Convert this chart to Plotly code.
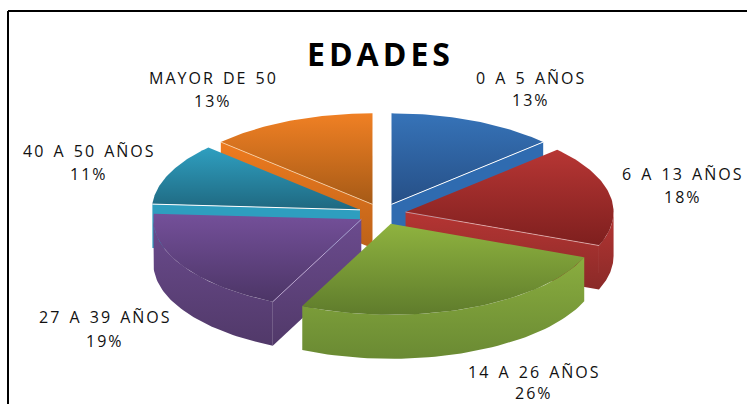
import math
import plotly.graph_objects as go

# Data
categories = ["0 A 5 AÑOS", "6 A 13 AÑOS", "14 A 26 AÑOS", "27 A 39 AÑOS", "40 A 50 AÑOS", "MAYOR DE 50"]
values = [13, 18, 26, 19, 11, 13]

# Styles
top_colors = [("#3673B8", "#264F86"), ("#B73634", "#7E1F1E"), ("#8FB33F", "#5F7C2C"),
              ("#74509A", "#4C3566"), ("#2F9FC0", "#1F6880"), ("#F08024", "#A65A16")]
side_colors = [("#2F6BB0", "#2F6BB0"), ("#B53533", "#8A2A28"), ("#8AAD3F", "#6A8A33"),
               ("#6B4B8E", "#513969"), ("#2E9EBF", "#2E9EBF"), ("#EE7B1F", "#BC6219")]
edge_colors = ["#FFFFFF", "rgba(255,220,220,0.55)", "rgba(220,240,180,0.4)",
               "rgba(220,200,240,0.6)", "#FFFFFF", "rgba(255,225,190,0.7)"]
label_pos = [(531, 78, 100), (683, 174, 197), (534, 372, 393), (105, 317, 341), (89, 151, 174), (213, 78, 101)]
draw_order = [0, 5, 4, 1, 3, 2]

CX, CY, RX, RY, DEPTH, EXPLODE = 382, 214, 208, 91, 44, 24
FONT = "Open Sans"


def pt(c, deg):
    r = math.radians(deg)
    return c[0] + RX * math.sin(r), c[1] - RY * math.cos(r)


def arc(c, a, b, n=50):
    return [pt(c, a + (b - a) * i / n) for i in range(n + 1)]


fig = go.Figure()


def poly(points, colors, name, edge=None):
    ys = [p[1] for p in points]
    fig.add_trace(go.Scatter(
        x=[p[0] for p in points] + [points[0][0]],
        y=[p[1] for p in points] + [points[0][1]],
        mode="lines", fill="toself", name=name, showlegend=False,
        line=dict(width=0.6 if edge else 0, color=edge or "rgba(0,0,0,0)"),
        fillgradient=dict(type="vertical", start=min(ys), stop=max(ys),
                          colorscale=[[0, colors[0]], [1, colors[1]]]),
        hoverinfo="name",
    ))


total = sum(values)
angles = []
acc = 0
for v in values:
    a = acc / total * 360
    acc += v
    angles.append((a, acc / total * 360))

for i in draw_order:
    a, b = angles[i]
    mid = math.radians((a + b) / 2)
    c = (CX + EXPLODE * math.sin(mid), CY - EXPLODE * (RY / RX) * math.cos(mid))
    name = categories[i]
    down = lambda pts: [(x, y + DEPTH) for x, y in pts]
    # cut faces that turn towards the viewer
    for ang, normal in ((a, a - 90), (b, b + 90)):
        if math.cos(math.radians(normal)) < 0.0:
            face = [c, pt(c, ang)]
            poly(face + down(face)[::-1], side_colors[i], name)
    # outer rim (front half only)
    lo, hi = max(a, 90), min(b, 270)
    if lo < hi:
        top = arc(c, lo, hi)
        poly(top + down(top)[::-1], side_colors[i], name)
    # top face
    poly([c] + arc(c, a, b), top_colors[i], name)
    # light edge along the front cut
    for ang, normal in ((a, a - 90), (b, b + 90)):
        if math.cos(math.radians(normal)) < -0.1:
            e = pt(c, ang)
            fig.add_trace(go.Scatter(x=[c[0], e[0]], y=[c[1], e[1]], mode="lines", showlegend=False,
                                     hoverinfo="skip", line=dict(width=1, color=edge_colors[i])))

for i, (x, y1, y2) in enumerate(label_pos):
    fig.add_annotation(x=x, y=y1, text=categories[i], showarrow=False,
                       font=dict(family=FONT, size=16, color="#111111"))
    fig.add_annotation(x=x, y=y2, text=f"{values[i]}%", showarrow=False,
                       font=dict(family=FONT, size=16, color="#111111"))

fig.add_annotation(x=380, y=53, text="<b>EDADES</b>", showarrow=False,
                   font=dict(family=FONT, size=32, color="#000000"))

fig.add_shape(type="line", x0=8, x1=760, y0=11, y1=11, line=dict(color="#000000", width=2))
fig.add_shape(type="line", x0=8, x1=8, y0=11, y1=420, line=dict(color="#000000", width=2))

fig.update_layout(
    width=747, height=404, margin=dict(l=0, r=0, t=0, b=0),
    paper_bgcolor="#FFFFFF", plot_bgcolor="#FFFFFF", showlegend=False,
    xaxis=dict(range=[0, 747], visible=False, fixedrange=True),
    yaxis=dict(range=[404, 0], visible=False, fixedrange=True),
)
css = ("body{margin:0;overflow:hidden}"
       ".annotation-text{letter-spacing:2px;word-spacing:2px}"
       '.annotation-text[style*="font-size: 32px"]{letter-spacing:4px}')
post = "var s=document.createElement('style');s.textContent=%r;document.head.appendChild(s);" % css
fig.write_html("out.html", config=dict(displayModeBar=False), post_script=post)
